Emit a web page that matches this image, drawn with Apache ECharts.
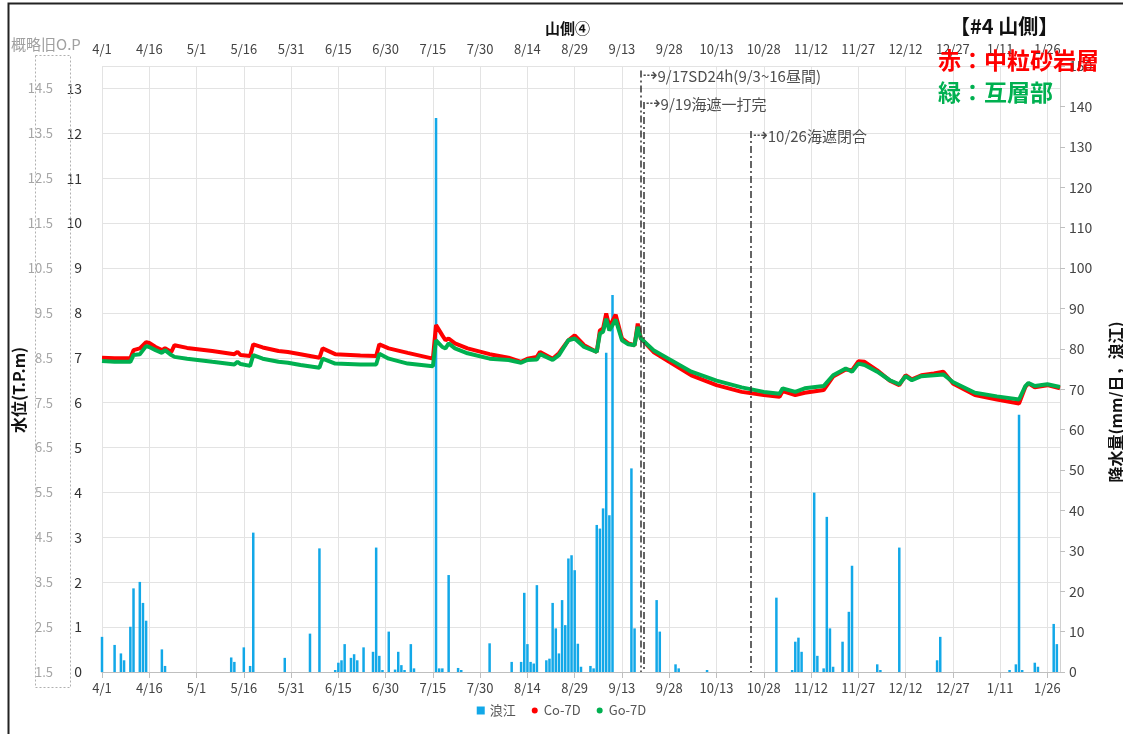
<!DOCTYPE html>
<html>
<head>
<meta charset="utf-8">
<title>山側④</title>
<script src="https://cdn.jsdelivr.net/npm/echarts@6.0.0/dist/echarts.min.js"></script>
<style>
  html, body { margin: 0; padding: 0; background: #ffffff; }
  #chart { width: 1123px; height: 734px; }
</style>
</head>
<body>
<div id="chart"></div>
<script>
// 横軸: 4/1 ～ 1/30 (日単位)
var dayCount = 305
var categories = []
for (var i = 0; i < dayCount; i++) {
  var dt = new Date(2021, 3, 1 + i)
  categories.push((dt.getMonth() + 1) + '/' + dt.getDate())
}

// 降水量 (mm/日, 浪江)  [日index, 値]
var rain = [
  [0, 8.7], [4, 6.7], [6, 4.6], [7, 2.9], [9, 11.2], [10, 20.7], [12, 22.3], [13, 17.1], [14, 12.7],
  [19, 5.6], [20, 1.5], [41, 3.6], [42, 2.5], [45, 6.1], [47, 1.5], [48, 34.5], [58, 3.5], [66, 9.5],
  [69, 30.6], [74, 0.5], [75, 2.3], [76, 2.9], [77, 6.9], [79, 3.5], [80, 4.4], [81, 2.9], [83, 6.1],
  [86, 5.0], [87, 30.8], [88, 4.0], [89, 0.5], [91, 10.0], [93, 0.6], [94, 5.0], [95, 1.7], [96, 0.5],
  [98, 6.9], [99, 0.9], [106, 137.1], [107, 0.9], [108, 0.9], [110, 24.0], [113, 1.0], [114, 0.5],
  [123, 7.1], [130, 2.5], [133, 2.5], [134, 19.6], [135, 6.9], [136, 2.5], [137, 2.1], [138, 21.5],
  [141, 2.9], [142, 3.3], [143, 17.1], [144, 10.8], [145, 4.6], [146, 17.8], [147, 11.6], [148, 28.1],
  [149, 28.9], [150, 25.2], [151, 7.0], [152, 1.3], [155, 1.5], [156, 0.9], [157, 36.4], [158, 35.5],
  [159, 40.5], [160, 79.0], [161, 38.8], [162, 93.3], [168, 50.4], [169, 10.8], [176, 17.8], [177, 10.0],
  [182, 1.9], [183, 0.9], [192, 0.5], [214, 18.4], [219, 0.5], [220, 7.5], [221, 8.5], [222, 5.0],
  [226, 44.4], [227, 4.0], [229, 0.9], [230, 38.4], [231, 10.8], [232, 1.3], [235, 7.5], [237, 14.9],
  [238, 26.3], [246, 1.9], [247, 0.5], [253, 30.8], [265, 2.9], [266, 8.7], [288, 0.5], [290, 1.9],
  [291, 63.7], [292, 0.5], [296, 2.3], [297, 1.3], [302, 11.9], [303, 6.9]
]

// 水位 Co-7D (赤：中粒砂岩層)
var co7d = [
  [0, 7.00], [4, 6.99], [9, 6.99], [10, 7.17], [12, 7.21], [14, 7.35], [15, 7.33], [17, 7.24], [19, 7.17],
  [20, 7.21], [22, 7.13], [23, 7.28], [27, 7.22], [35, 7.15], [42, 7.08], [43, 7.13], [44, 7.06], [47, 7.04],
  [48, 7.30], [51, 7.23], [56, 7.15], [59, 7.13], [63, 7.08], [69, 7.00], [70, 7.21], [74, 7.08], [82, 7.05],
  [87, 7.04], [88, 7.30], [91, 7.21], [97, 7.11], [105, 6.98], [106, 7.73], [108, 7.50], [109, 7.39],
  [110, 7.43], [112, 7.32], [116, 7.21], [123, 7.08], [129, 7.00], [133, 6.91], [135, 6.98], [138, 7.02],
  [139, 7.13], [143, 6.98], [145, 7.10], [148, 7.39], [150, 7.50], [153, 7.28], [157, 7.13], [158, 7.61],
  [159, 7.65], [160, 7.99], [161, 7.69], [163, 7.96], [165, 7.43], [167, 7.32], [169, 7.28], [170, 7.76],
  [171, 7.43], [175, 7.13], [180, 6.91], [187, 6.61], [195, 6.39], [203, 6.24], [210, 6.17], [215, 6.13],
  [216, 6.26], [220, 6.17], [223, 6.22], [229, 6.28], [232, 6.58], [236, 6.74], [238, 6.72], [240, 6.92],
  [242, 6.91], [246, 6.72], [250, 6.49], [253, 6.39], [255, 6.61], [257, 6.52], [260, 6.61], [264, 6.65],
  [267, 6.69], [270, 6.43], [277, 6.17], [284, 6.07], [291, 5.98], [293, 6.35], [294, 6.43], [296, 6.34],
  [300, 6.39], [304, 6.32]
]

// 水位 Go-7D (緑：互層部)
var go7d = [
  [0, 6.93], [4, 6.91], [9, 6.91], [10, 7.06], [12, 7.08], [14, 7.26], [15, 7.24], [17, 7.17], [19, 7.11],
  [20, 7.17], [22, 7.06], [23, 7.02], [27, 6.98], [35, 6.91], [42, 6.85], [43, 6.91], [44, 6.86], [47, 6.82],
  [48, 7.06], [51, 6.98], [56, 6.91], [59, 6.89], [63, 6.84], [69, 6.78], [70, 6.98], [74, 6.87], [82, 6.85],
  [87, 6.85], [88, 7.09], [91, 6.98], [97, 6.87], [105, 6.81], [106, 7.39], [108, 7.24], [109, 7.21],
  [110, 7.32], [112, 7.21], [116, 7.10], [123, 6.98], [129, 6.95], [133, 6.89], [135, 6.95], [138, 6.96],
  [139, 7.08], [143, 6.95], [145, 7.06], [148, 7.39], [150, 7.43], [153, 7.24], [157, 7.13], [158, 7.54],
  [159, 7.58], [160, 7.87], [161, 7.61], [163, 7.85], [165, 7.39], [167, 7.30], [169, 7.28], [170, 7.69],
  [171, 7.43], [175, 7.17], [180, 6.97], [187, 6.69], [195, 6.49], [203, 6.34], [210, 6.24], [215, 6.20],
  [216, 6.32], [220, 6.24], [223, 6.32], [229, 6.37], [232, 6.61], [236, 6.76], [238, 6.69], [240, 6.87],
  [242, 6.84], [246, 6.69], [250, 6.50], [253, 6.41], [255, 6.59], [257, 6.50], [260, 6.59], [264, 6.61],
  [267, 6.63], [270, 6.46], [277, 6.22], [284, 6.14], [291, 6.07], [293, 6.37], [294, 6.44], [296, 6.37],
  [300, 6.41], [304, 6.35]
]

// 注記 (日index, 線の上端, 文字の高さ, 文字)
var noteDays = [171, 172, 206]
var noteTops = [13.4, 12.7, 12.05]
var noteLabelY = [13.27, 12.65, 11.93]
var noteTexts = ['9/17SD24h(9/3~16昼間)', '9/19海遮一打完', '10/26海遮閉合']

var FONT = '"Noto Sans CJK JP", "Noto Sans", sans-serif'

var notePoints = []
var noteLines = []
for (var k = 0; k < noteDays.length; k++) {
  notePoints.push({ value: [noteDays[k], noteLabelY[k]], label: { formatter: '{a|⇢}' + noteTexts[k] } })
  noteLines.push([{ coord: [noteDays[k], noteTops[k]] }, { coord: [noteDays[k], 0] }])
}

var myChart = echarts.init(document.getElementById('chart'))

var xAxisBase = {
  type: 'category',
  data: categories,
  boundaryGap: false,
  axisLine: { lineStyle: { color: '#bfbfbf' } },
  axisLabel: { interval: 14, color: '#444', fontSize: 13, fontFamily: FONT, margin: 10 },
  axisTick: { interval: 14, lineStyle: { color: '#bfbfbf' } }
}

var option = {
  backgroundColor: '#ffffff',
  animation: false,
  textStyle: { fontFamily: FONT },
  title: {
    text: '山側④',
    left: 540,
    top: 16,
    textStyle: { fontSize: 15, fontWeight: 'bold', color: '#111', fontFamily: FONT }
  },
  grid: {
    left: 102,
    right: 63,
    top: 66,
    bottom: 62,
    outerBoundsMode: 'none'
  },
  legend: {
    bottom: 12,
    left: 'center',
    itemWidth: 8,
    itemHeight: 8,
    itemGap: 14,
    textStyle: { fontSize: 13, color: '#555', fontFamily: FONT },
    data: [
      { name: '浪江', icon: 'rect' },
      { name: 'Co-7D', icon: 'circle', itemStyle: { borderWidth: 2, borderColor: '#fff' } },
      { name: 'Go-7D', icon: 'circle', itemStyle: { borderWidth: 2, borderColor: '#fff' } }
    ]
  },
  xAxis: [
    Object.assign({}, xAxisBase, {
      position: 'bottom',
      splitLine: { show: true, interval: 14, lineStyle: { color: '#e3e3e3' } }
    }),
    Object.assign({}, xAxisBase, {
      position: 'top',
      axisTick: { interval: 14, inside: true, length: 6, lineStyle: { color: '#bfbfbf' } },
      splitLine: { show: false }
    })
  ],
  yAxis: [
    {
      type: 'value',
      position: 'left',
      min: 0,
      max: 13.5,
      interval: 1,
      name: '水位(T.P.m)',
      nameLocation: 'middle',
      nameRotate: 90,
      nameGap: 75,
      nameTextStyle: { fontSize: 16, fontWeight: 'bold', color: '#111', padding: [0, 42, 0, 0] },
      axisLine: { show: false },
      axisTick: { show: false },
      axisLabel: { color: '#333', fontSize: 14, margin: 20, showMaxLabel: false },
      splitLine: { show: true, lineStyle: { color: '#e3e3e3' } }
    },
    {
      type: 'value',
      position: 'right',
      min: 0,
      max: 150,
      interval: 10,
      name: '降水量(mm/日，浪江)',
      nameLocation: 'middle',
      nameRotate: 90,
      nameGap: 48,
      nameTextStyle: { fontSize: 16, fontWeight: 'bold', color: '#111', padding: [0, 66, 0, 0] },
      axisLine: { show: true, lineStyle: { color: '#d0d0d0' } },
      axisTick: { show: true, length: 5, lineStyle: { color: '#bfbfbf' } },
      axisLabel: { color: '#444', fontSize: 14, margin: 9 },
      splitLine: { show: false }
    },
    {
      // 概略旧O.P (T.P.+1.5)
      type: 'value',
      position: 'left',
      offset: 41,
      min: 0,
      max: 13.5,
      interval: 1,
      axisLine: { show: false },
      axisTick: { show: false },
      splitLine: { show: false },
      axisLabel: {
        color: '#a6a6a6',
        fontSize: 13,
        margin: 8,
        showMaxLabel: false,
        formatter: function(v) { return (v + 1.5).toFixed(1) }
      }
    }
  ],
  graphic: [
    { type: 'rect', z: 100, left: 6, top: 1, shape: { width: 1140, height: 760 }, style: { fill: null, stroke: '#222', lineWidth: 2 }, silent: true },
    { type: 'text', z: 100, left: 11, top: 37, style: { text: '概略旧O.P', fill: '#a0a0a0', fontSize: 15, fontFamily: FONT } },
    { type: 'rect', z: 100, left: 33, top: 53, shape: { width: 35, height: 632 }, style: { fill: null, stroke: '#b0b0b0', lineWidth: 1, lineDash: [2, 2] }, silent: true },
    { type: 'text', z: 100, left: 950, top: 16, style: { text: '【#4 山側】', fill: '#111', fontSize: 20, fontWeight: 'bold', fontFamily: FONT } },
    { type: 'text', z: 100, left: 938, top: 49, style: { text: '赤：中粒砂岩層', fill: '#ff0000', fontSize: 23, fontWeight: 'bold', fontFamily: FONT } },
    { type: 'text', z: 100, left: 938, top: 81, style: { text: '緑：互層部', fill: '#00b050', fontSize: 23, fontWeight: 'bold', fontFamily: FONT } }
  ],
  series: [
    {
      name: 'Co-7D',
      type: 'line',
      xAxisIndex: 0,
      yAxisIndex: 0,
      symbol: 'none',
      color: '#ff0000',
      lineStyle: { width: 4, color: '#ff0000' },
      data: co7d
    },
    {
      name: 'Go-7D',
      type: 'line',
      xAxisIndex: 0,
      yAxisIndex: 0,
      symbol: 'none',
      color: '#00b050',
      lineStyle: { width: 4, color: '#00b050' },
      data: go7d
    },
    {
      name: '浪江',
      type: 'bar',
      xAxisIndex: 0,
      yAxisIndex: 1,
      barWidth: 2.5,
      color: '#12a8e8',
      itemStyle: { color: '#12a8e8' },
      data: rain
    },
    {
      name: 'notes',
      type: 'scatter',
      xAxisIndex: 0,
      yAxisIndex: 0,
      symbolSize: 1,
      itemStyle: { color: 'transparent' },
      silent: true,
      label: {
        show: true,
        position: 'right',
        distance: 1,
        fontSize: 15,
        color: '#222',
        fontFamily: FONT,
        rich: {
          a: { fontSize: 18, color: '#222', fontFamily: '"DejaVu Sans", sans-serif' }
        }
      },
      data: notePoints,
      markLine: {
        silent: true,
        symbol: ['none', 'none'],
        label: { show: false },
        lineStyle: { color: '#333', width: 1.5, type: [7, 3, 2, 3] },
        data: noteLines
      }
    }
  ]
}

myChart.setOption(option)
window.addEventListener('resize', function() {
  myChart.resize()
})
</script>
</body>
</html>
